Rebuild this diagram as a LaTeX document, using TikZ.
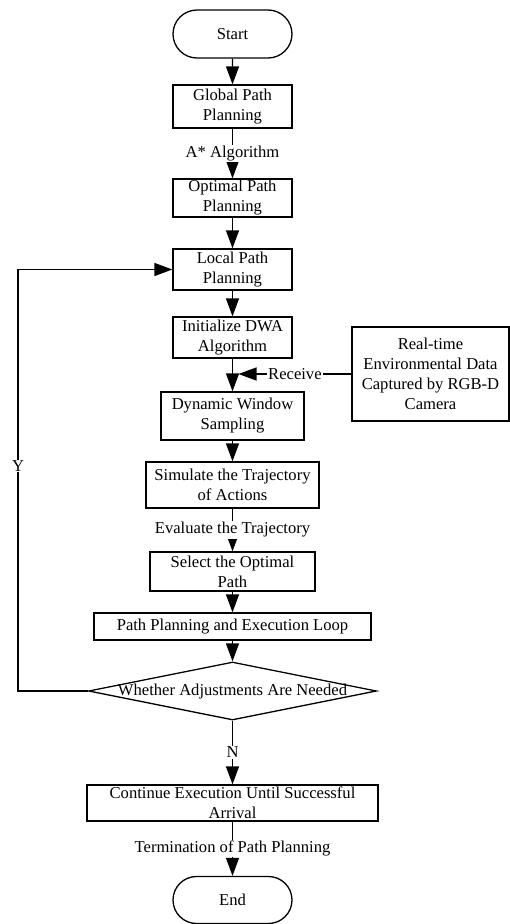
\documentclass[tikz,border=0pt]{standalone}
\usepackage{fontspec}
\setmainfont{Liberation Serif}
\usetikzlibrary{arrows.meta,shapes.geometric,shapes.misc}

\begin{document}
\begin{tikzpicture}[x=1pt,y=-1pt,
    every node/.style={font=\fontsize{16.6}{20}\selectfont, align=center},
    box/.style={draw, rectangle, inner sep=0pt, line width=1.3pt},
    term/.style={draw, rounded rectangle, inner sep=0pt, line width=1.3pt,
                 minimum width=119pt, minimum height=48pt},
    decision/.style={draw, diamond, inner sep=0pt, line width=1.3pt},
    lbl/.style={fill=white, inner sep=1pt},
    arr/.style={line width=1.3pt, -{Triangle[length=18pt, width=13pt]}}]
    \useasboundingbox (0,0) rectangle (510,924);
    \pgfmathsetmacro{\cx}{232.5}  % main column

    % main column
    \node[term] (start) at (\cx,34) {Start};
    \node[box, minimum width=119pt, minimum height=43pt] (glob) at (\cx,106.5) {Global Path\\Planning};
    \node[box, minimum width=119pt, minimum height=38pt] (opt) at (\cx,198) {Optimal Path\\Planning};
    \node[box, minimum width=119pt, minimum height=41pt] (loc) at (\cx,269.5) {Local Path\\Planning};
    \node[box, minimum width=119pt, minimum height=41pt] (dwa) at (\cx,337.5) {Initialize DWA\\Algorithm};
    \node[box, minimum width=143pt, minimum height=48pt] (dyn) at (\cx,416) {Dynamic Window\\Sampling};
    \node[box, minimum width=173pt, minimum height=46pt] (sim) at (\cx,485) {Simulate the Trajectory\\of Actions};
    \node[box, minimum width=165pt, minimum height=39pt] (sel) at (\cx,571.5) {Select the Optimal\\Path};
    \node[box, minimum width=277pt, minimum height=27pt] (loop) at (\cx,626.5) {Path Planning and Execution Loop};
    \node[decision, minimum width=288pt, minimum height=58pt,
          label=center:{Whether Adjustments Are Needed}] (dec) at (\cx,691) {};
    \node[box, minimum width=291pt, minimum height=36pt] (cont) at (\cx,803) {Continue Execution Until Successful\\Arrival};
    \node[term, minimum height=47pt] (end) at (\cx,900) {End};

    % side input
    \node[box, minimum width=157pt, minimum height=94pt] (rt) at (430.5,374) {Real-time\\Environmental Data\\Captured by RGB-D\\Camera};
    \coordinate (mrg) at (238.5,374);
    \coordinate (fb) at (18,466);

    \draw[arr] (start) -- (glob);
    \draw[arr] (glob) -- node[lbl] {A* Algorithm} (opt);
    \draw[arr] (opt) -- (loc);
    \draw[arr] (loc) -- (dwa);
    \draw[arr] (dwa) -- (dyn);
    \draw[arr] (rt.west) -- node[lbl] {Receive} (mrg);
    \draw[arr] (dyn) -- (sim);
    \draw[arr] (sim) -- node[lbl] {Evaluate the Trajectory} (sel);
    \draw[arr] (sel) -- (loop);
    \draw[arr] (loop) -- (dec);
    \draw[arr] (dec.west) -| (fb) node[lbl] {Y} |- (loc.west); % loop back
    \draw[arr] (dec) -- node[lbl] {N} (cont);
    \draw[arr] (cont) -- node[lbl] {Termination of Path Planning} (end);
\end{tikzpicture}
\end{document}
